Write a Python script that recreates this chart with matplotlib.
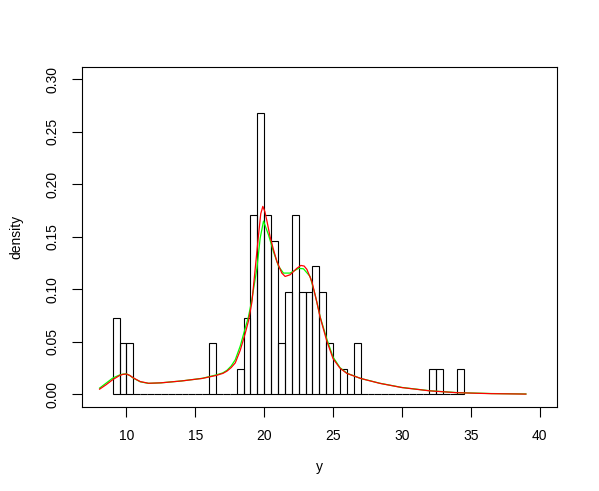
import matplotlib
matplotlib.use("Agg")
import matplotlib.pyplot as plt
import numpy as np

plt.rcParams['font.family'] = ['Liberation Sans', 'DejaVu Sans']

# Histogram: bins of width 0.5 from 9.0 to 34.5, counts per bin (n = 82)
bin_left = [9.0 + 0.5 * i for i in range(51)]
counts = [3, 2, 2, 0, 0, 0, 0, 0, 0, 0, 0, 0, 0, 0, 2, 0, 0, 0, 1, 3,
          7, 11, 7, 6, 2, 4, 7, 4, 4, 5, 4, 2, 0, 1, 0, 2, 0, 0, 0, 0,
          0, 0, 0, 0, 0, 0, 1, 1, 0, 0, 1]
n_obs = 82
bin_width = 0.5

# Red density curve
red_x = [8.05, 8.5, 9.0, 9.5, 9.75, 10.0, 10.25, 10.5, 11.0, 11.6, 12.5, 14.0,
         15.5, 16.5, 17.0, 17.3, 17.6, 17.9, 18.26, 18.62, 18.86, 19.11, 19.35,
         19.59, 19.75, 19.9, 20.05, 20.2, 20.43, 20.67, 20.92, 21.28, 21.52,
         21.88, 22.37, 22.66, 22.9, 23.1, 23.46, 23.82, 24.06, 24.54, 25.0,
         25.5, 26.0, 27.0, 28.4, 30.0, 32.0, 34.0, 36.5, 39.0]
red_y = [0.0050, 0.0090, 0.0140, 0.0180, 0.0191, 0.0194, 0.0180, 0.0157,
         0.0122, 0.0106, 0.0110, 0.0128, 0.0152, 0.0180, 0.0200, 0.0222,
         0.0255, 0.0300, 0.0420, 0.0580, 0.0700, 0.0880, 0.1200, 0.1520,
         0.1720, 0.1790, 0.1740, 0.1650, 0.1500, 0.1380, 0.1266, 0.1155,
         0.1123, 0.1139, 0.1200, 0.1228, 0.1222, 0.1190, 0.1075, 0.0880,
         0.0735, 0.0510, 0.0340, 0.0250, 0.0200, 0.0152, 0.0105, 0.0065,
         0.0034, 0.0016, 0.0007, 0.0003]

# Green density curve
green_x = [8.05, 8.5, 9.0, 9.5, 9.75, 10.0, 10.25, 10.5, 11.0, 11.6, 12.5, 14.0,
           15.5, 16.5, 17.0, 17.3, 17.6, 17.9, 18.26, 18.62, 18.86, 19.1,
           19.47, 19.71, 19.95, 20.31, 20.67, 21.04, 21.4, 21.88, 22.49, 22.85,
           23.33, 23.7, 24.06, 24.54, 25.0, 25.5, 26.0, 27.0, 28.4, 30.0,
           32.0, 34.0, 36.5, 39.0]
green_y = [0.0060, 0.0105, 0.0155, 0.0185, 0.0193, 0.0195, 0.0179, 0.0155,
           0.0120, 0.0105, 0.0110, 0.0128, 0.0153, 0.0185, 0.0205, 0.0230,
           0.0270, 0.0330, 0.0460, 0.0630, 0.0740, 0.0900, 0.1200, 0.1490,
           0.1650, 0.1520, 0.1360, 0.1220, 0.1155, 0.1155, 0.1200, 0.1196,
           0.1123, 0.0948, 0.0740, 0.0530, 0.0355, 0.0255, 0.0202, 0.0152,
           0.0106, 0.0066, 0.0035, 0.0017, 0.0008, 0.0004]

x_ticks = [10, 15, 20, 25, 30, 35, 40]
y_ticks = [0.00, 0.05, 0.10, 0.15, 0.20, 0.25, 0.30]
y_tick_labels = ["0.00", "0.05", "0.10", "0.15", "0.20", "0.25", "0.30"]

W, H = 599, 491
fig = plt.figure(figsize=(W / 100, H / 100), dpi=100)
left, right, top, bottom = 81.7, 557.3, 66.7, 407.0
ax = fig.add_axes([left / W, (H - bottom) / H, (right - left) / W, (bottom - top) / H])

density = [c / (n_obs * bin_width) for c in counts]
ax.bar(bin_left, density, width=bin_width, align='edge', facecolor='none',
       edgecolor='black', linewidth=0.8)
ax.plot(green_x, green_y, color='#00FF00', linewidth=0.9)
ax.plot(red_x, red_y, color='#FF0000', linewidth=0.9)

ax.set_xlim(6.75, 41.28)
ax.set_ylim(-0.012, 0.312)
ax.set_xticks(x_ticks)
ax.set_xticklabels([str(t) for t in x_ticks])
ax.set_yticks(y_ticks)
ax.set_yticklabels(y_tick_labels, rotation=90, va='center')
ax.tick_params(axis='both', direction='out', length=7, width=0.8, labelsize=10,
               colors='black')
ax.tick_params(axis='x', pad=9)
ax.tick_params(axis='y', pad=9)
for s in ax.spines.values():
    s.set_linewidth(0.8)
    s.set_color('black')

ax.set_xlabel('y', fontsize=10, labelpad=12)
ax.set_ylabel('density', fontsize=10, labelpad=16)

fig.savefig('out.png', dpi=100)
